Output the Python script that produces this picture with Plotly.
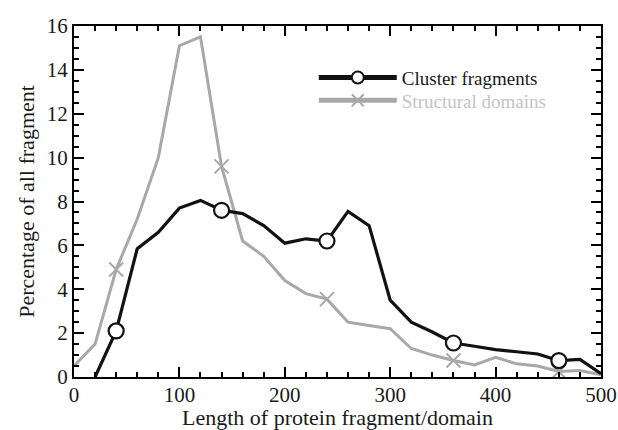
import plotly.graph_objects as go

lengths = [0, 20, 40, 60, 80, 100, 120, 140, 160, 180, 200, 220, 240, 260, 280,
           300, 320, 340, 360, 380, 400, 420, 440, 460, 480, 500]
cluster = [None, 0.0, 2.1, 5.85, 6.6, 7.7, 8.05, 7.6, 7.45, 6.9, 6.1, 6.3, 6.2, 7.55, 6.9,
           3.5, 2.5, 2.05, 1.55, 1.4, 1.25, 1.15, 1.05, 0.75, 0.8, 0.15]
structural = [0.5, 1.5, 4.9, 7.2, 10.0, 15.1, 15.5, 9.6, 6.2, 5.5, 4.4, 3.8, 3.55, 2.5, 2.35,
              2.2, 1.3, 1.0, 0.75, 0.55, 0.9, 0.6, 0.5, 0.25, 0.3, 0.1]
marker_x = [40, 140, 240, 360, 460]

serif = "Liberation Serif, Times New Roman, serif"

def mk_sizes(sz):
    return [sz if x in marker_x else 0 for x in lengths]

fig = go.Figure()
fig.add_trace(go.Scatter(
    x=lengths, y=structural, mode="lines+markers",
    name="Structural domains", legend="legend2",
    line=dict(color="#a8a8a8", width=3),
    marker=dict(symbol="x-thin", size=mk_sizes(14), color="#a8a8a8", opacity=1,
                line=dict(color="#a8a8a8", width=2)),
))
fig.add_trace(go.Scatter(
    x=lengths, y=cluster, mode="lines+markers", name="Cluster fragments",
    legend="legend",
    line=dict(color="#111111", width=3.2),
    marker=dict(symbol="circle", size=mk_sizes(15), color="#ffffff", opacity=1,
                line=dict(color="#111111", width=2.2)),
))

axis_common = dict(
    showline=True, linecolor="black", linewidth=2, mirror="allticks",
    ticks="inside", ticklen=10, tickwidth=2, tickcolor="black",
    showgrid=False, zeroline=False, automargin=False,
    tickfont=dict(family=serif, size=21, color="#1a1a1a"),
    title_font=dict(family=serif, size=22, color="#1a1a1a"),
)
fig.update_xaxes(range=[0, 500], dtick=100, title_text="Length of protein fragment/domain",
                 title_standoff=0, ticklabelstandoff=-2,
                 minor=dict(dtick=20, ticklen=5, tickwidth=2, ticks="inside", tickcolor="black"),
                 **axis_common)
fig.update_yaxes(range=[0, 16], dtick=2, title_text="Percentage of all fragment",
                 title_standoff=6, ticklabelstandoff=0,
                 minor=dict(dtick=0.5, ticklen=5, tickwidth=2, ticks="inside", tickcolor="black"),
                 **axis_common)

legend_common = dict(xanchor="left", yanchor="middle", bgcolor="rgba(0,0,0,0)",
                     itemsizing="constant", itemwidth=78)
fig.update_layout(
    width=618, height=430,
    margin=dict(l=74, r=17, t=26, b=53),
    paper_bgcolor="white", plot_bgcolor="white",
    showlegend=True,
    legend=dict(x=0.455, y=0.853, font=dict(family=serif, size=19, color="#1a1a1a"),
                **legend_common),
    legend2=dict(x=0.455, y=0.788, font=dict(family=serif, size=19, color="#c4c4c4"),
                 **legend_common),
)
fig.write_html("out.html")
